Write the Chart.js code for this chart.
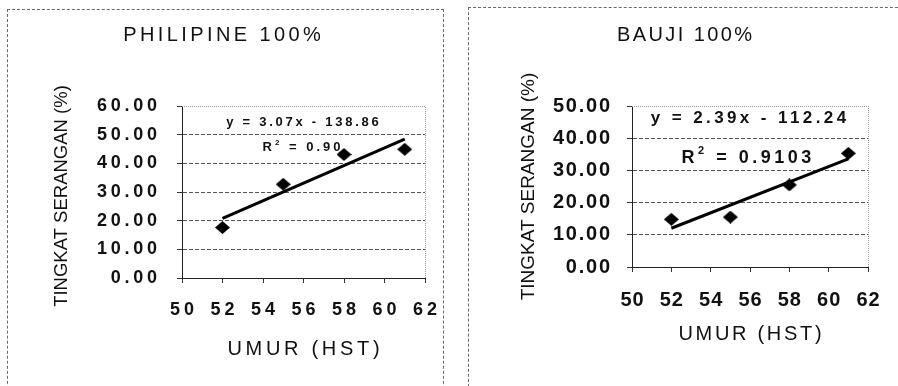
<!DOCTYPE html>
<html>
<head>
<meta charset="utf-8">
<script src="https://cdn.jsdelivr.net/npm/chart.js@4.4.0/dist/chart.umd.min.js"></script>
<style>
  html, body { margin: 0; padding: 0; background: #fff; width: 898px; height: 386px; overflow: hidden; position: relative; }
  .panel { position: absolute; border: 1px dashed #6a6a6a; box-sizing: border-box; }
  canvas { position: absolute; }
</style>
</head>
<body>
<div class="panel" style="left:7px;top:9px;width:437px;height:400px"></div>
<div class="panel" style="left:468px;top:7px;width:440px;height:400px"></div>
<canvas id="chartPhilipine" width="414" height="376" style="left:25px;top:10px"></canvas>
<canvas id="chartBauji" width="377" height="378" style="left:505px;top:8px"></canvas>
<script>
// Age of plants (days after planting) and attack level (%) per variety
const umur = [52, 55, 58, 61];
const seranganPhilipine = [17.6, 32.7, 43.1, 44.9];
const seranganBauji = [14.8, 15.5, 25.5, 35.3];

// Linear trend lines: y = slope * x + intercept
const trendSlope = [3.07, 2.39];
const trendIntercept = [-138.86, -112.24];
const rSquared = ['0.90', '0.9103'];

const chartTitles = ['PHILIPINE 100%', 'BAUJI 100%'];
const xTitle = 'UMUR (HST)';
const yTitle = 'TINGKAT SERANGAN (%)';
const xTickRange = [50, 62];
const yTickMax = [60, 50];

const FONT = 'Arial, "Liberation Sans", Helvetica, sans-serif';
Chart.defaults.color = '#111';
Chart.defaults.font.family = FONT;

// Flattened black diamond marker
function diamondMarker(w, h) {
  const c = document.createElement('canvas');
  c.width = w; c.height = h;
  const g = c.getContext('2d');
  g.fillStyle = '#000';
  g.beginPath();
  g.moveTo(w / 2, 0); g.lineTo(w, h / 2); g.lineTo(w / 2, h); g.lineTo(0, h / 2);
  g.closePath(); g.fill();
  return c;
}

// Run a drawing method with canvas letter spacing and an optional shift
function withSpacing(target, method, cfg) {
  if (!target || !cfg) return;
  const orig = target[method];
  target[method] = function (...args) {
    const ctx = this.ctx;
    ctx.save();
    ctx.letterSpacing = (cfg.s || 0) + 'px';
    ctx.translate(cfg.dx || 0, cfg.dy || 0);
    const r = orig.apply(this, args);
    ctx.restore();
    return r;
  };
}

const spacingPlugin = {
  id: 'spacing',
  beforeDraw(chart, args, o) {
    if (chart.$spaced) return;
    chart.$spaced = true;
    withSpacing(chart.titleBlock, 'draw', o.title);
    withSpacing(chart.scales.x, 'drawLabels', o.xTicks);
    withSpacing(chart.scales.x, 'drawTitle', o.xTitle);
    withSpacing(chart.scales.y, 'drawLabels', o.yTicks);
    withSpacing(chart.scales.y, 'drawTitle', o.yTitle);
  }
};

// Width of a spaced string, counting the gaps between glyphs only
function spacedWidth(ctx, text, font, s) {
  ctx.font = font;
  ctx.letterSpacing = '0px';
  return ctx.measureText(text).width + s * (text.length - 1);
}

function drawSpaced(ctx, text, font, s, x, y) {
  ctx.font = font;
  ctx.letterSpacing = s + 'px';
  ctx.fillText(text, x, y);
}

// Plot-area frame (top / right) and the trend equation text
const trendLabelPlugin = {
  id: 'trendLabel',
  beforeDatasetsDraw(chart, args, o) {
    const { ctx, chartArea: a, scales: { x, y } } = chart;
    ctx.save();
    ctx.strokeStyle = '#9a9a9a';
    ctx.lineWidth = 1;
    ctx.setLineDash([1, 1]);
    ctx.beginPath();
    ctx.moveTo(a.left, Math.round(a.top) + 0.5);
    ctx.lineTo(Math.round(a.right) + 0.5, Math.round(a.top) + 0.5);
    ctx.lineTo(Math.round(a.right) + 0.5, a.bottom);
    ctx.stroke();
    ctx.restore();

    ctx.save();
    ctx.fillStyle = '#111';
    ctx.textBaseline = 'middle';
    ctx.textAlign = 'left';

    // equation line
    const eqFont = `bold ${o.eqSize}px ${FONT}`;
    const ew = spacedWidth(ctx, o.equation, eqFont, o.eqSpacing);
    drawSpaced(ctx, o.equation, eqFont, o.eqSpacing,
      x.getPixelForValue(o.eqAt[0]) - ew / 2, y.getPixelForValue(o.eqAt[1]));

    // R squared with superscript 2
    const s = o.rSpacing;
    const big = `bold ${o.rSize}px ${FONT}`;
    const small = `bold ${Math.round(o.rSize * 0.62)}px ${FONT}`;
    const tail = ' = ' + o.r2;
    const wR = spacedWidth(ctx, 'R', big, s) + s;
    const w2 = spacedWidth(ctx, '2', small, s) + s;
    const wTail = spacedWidth(ctx, tail, big, s);
    const cx = x.getPixelForValue(o.rAt[0]);
    const cy = y.getPixelForValue(o.rAt[1]);
    let px = cx - (wR + w2 + wTail) / 2;
    drawSpaced(ctx, 'R', big, s, px, cy);
    px += wR;
    drawSpaced(ctx, '2', small, s, px, cy - o.rSize * 0.4);
    px += w2;
    drawSpaced(ctx, tail, big, s, px, cy);
    ctx.restore();
  }
};

function makeChart(id, idx, values, st) {
  const slope = trendSlope[idx];
  const intercept = trendIntercept[idx];
  const first = umur[0];
  const last = umur[umur.length - 1];
  const trend = [
    { x: first, y: slope * first + intercept },
    { x: last, y: slope * last + intercept }
  ];
  const equation = `y = ${slope.toFixed(2)}x - ${Math.abs(intercept).toFixed(2)}`;
  const yMax = yTickMax[idx];

  return new Chart(document.getElementById(id), {
    type: 'scatter',
    data: {
      datasets: [
        {
          type: 'scatter',
          data: umur.map((u, i) => ({ x: u, y: values[i] })),
          pointStyle: diamondMarker(st.marker[0], st.marker[1]),
          pointRadius: 7,
          order: 0
        },
        {
          type: 'line',
          data: trend,
          borderColor: '#000',
          borderWidth: 3,
          pointRadius: 0,
          fill: false,
          order: 1
        }
      ]
    },
    options: {
      responsive: false,
      animation: false,
      devicePixelRatio: 1,
      layout: { padding: { left: 0, right: 14, top: 0, bottom: 0 } },
      plugins: {
        legend: { display: false },
        tooltip: { enabled: false },
        title: {
          display: true,
          text: chartTitles[idx],
          color: '#111',
          font: { size: 20, weight: 'normal', family: FONT },
          padding: { top: st.titlePad[0], bottom: st.titlePad[1] }
        },
        spacing: st.spacing,
        trendLabel: {
          equation, r2: rSquared[idx],
          eqAt: st.eqAt, rAt: st.rAt,
          eqSize: st.eqSize, eqSpacing: st.eqSpacing,
          rSize: st.rSize, rSpacing: st.rSpacing
        }
      },
      scales: {
        x: {
          type: 'linear',
          min: xTickRange[0],
          max: xTickRange[1],
          afterFit: s => { s.height = st.xHeight; },
          ticks: {
            stepSize: 2,
            padding: 0,
            color: '#111',
            font: { size: st.xTickSize, weight: 'bold', family: FONT },
            callback: v => String(v)
          },
          grid: { drawOnChartArea: false, drawTicks: true, tickLength: 5, tickColor: '#333', tickWidth: 1 },
          border: { display: true, color: '#222', width: 1 },
          title: {
            display: true, text: xTitle, color: '#111',
            font: { size: 20, weight: 'normal', family: FONT },
            padding: { top: st.xTitlePad, bottom: st.xTitlePad }
          }
        },
        y: {
          type: 'linear',
          min: 0,
          max: yMax,
          afterFit: s => { s.width = st.yWidth; },
          ticks: {
            stepSize: 10,
            padding: st.yTickPad,
            color: '#111',
            font: { size: st.yTickSize, weight: 'bold', family: FONT },
            callback: v => Number(v).toFixed(2)
          },
          grid: {
            color: c => (c.tick && c.tick.value === yMax ? 'rgba(0,0,0,0)' : '#555'),
            lineWidth: 1,
            drawTicks: true, tickLength: 5, tickColor: '#333', tickWidth: 1
          },
          border: { display: true, color: '#222', width: 1, dash: [4, 2] },
          title: {
            display: true, text: yTitle, color: '#111',
            font: { size: st.yTitleSize, weight: 'normal', family: FONT },
            padding: { top: st.yTitlePad, bottom: st.yTitlePad }
          }
        }
      }
    },
    plugins: [spacingPlugin, trendLabelPlugin]
  });
}

makeChart('chartPhilipine', 0, seranganPhilipine, {
  marker: [15, 13],
  titlePad: [13.5, 58.5],
  xHeight: 108, xTickSize: 18, xTitlePad: 25,
  yWidth: 157, yTickPad: 16.25, yTickSize: 18, yTitleSize: 18.5, yTitlePad: 25.4,
  eqAt: [55.95, 54.1], rAt: [55.9, 45.5],
  eqSize: 13, eqSpacing: 2.75, rSize: 13, rSpacing: 3,
  spacing: {
    title: { s: 3.4, dx: -1.3 },
    xTicks: { s: 4, dx: 2, dy: 16.2 },
    xTitle: { s: 3.7, dx: 1.85 },
    yTicks: { s: 3.75 },
    yTitle: { s: 0, dy: 4 }
  }
});

makeChart('chartBauji', 1, seranganBauji, {
  marker: [15, 13],
  titlePad: [15.5, 58.5],
  xHeight: 119, xTickSize: 20, xTitlePad: 39.5,
  yWidth: 127, yTickPad: 15.25, yTickSize: 20, yTitleSize: 19, yTitlePad: 12.1,
  eqAt: [55.92, 46.3], rAt: [55.82, 33.8],
  eqSize: 17, eqSpacing: 3.4, rSize: 18, rSpacing: 3.5,
  spacing: {
    title: { s: 2.4, dx: -0.8 },
    xTicks: { s: 1, dx: 0.5, dy: 16 },
    xTitle: { s: 2.7, dx: 1.35 },
    yTicks: { s: 1.75 },
    yTitle: { s: 0 }
  }
});
</script>
</body>
</html>
